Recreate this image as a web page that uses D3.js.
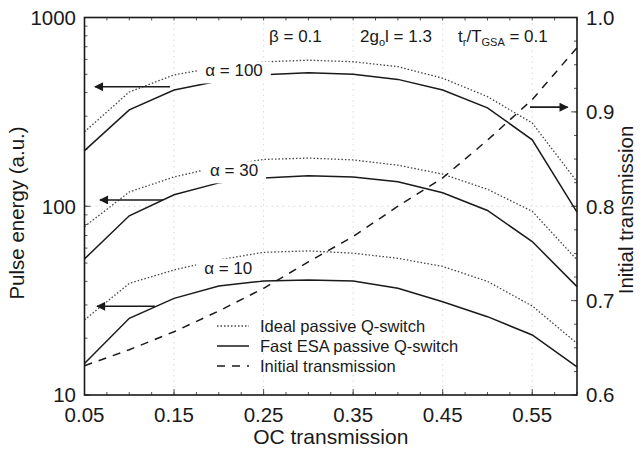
<!DOCTYPE html>
<html><head><meta charset="utf-8">
<script src="https://cdn.jsdelivr.net/npm/d3@7"></script>
<style>
body{margin:0;background:#fff;}
text{font-family:"Liberation Sans",Arial,Helvetica,sans-serif;fill:#1a1a1a;}
</style></head>
<body><svg id="c" width="643" height="450"></svg>
<script>
// ---- data ----
const oc = [0.05,0.10,0.15,0.20,0.25,0.30,0.35,0.40,0.45,0.50,0.55,0.60];
const ideal100 = [248,403,496,548,582,594,583,549,477,381,276,135];
const esa100   = [197,324,413,461,498,510,500,470,413,332,225,93];
const ideal30  = [78,119,143,162,177,180,176,165,148,123,94,52];
const esa30    = [52.6,89,115,133,141,145,143,135,118,95,65,37.5];
const ideal10  = [25,39,46,52,57,58,56.4,53,48,40,29.6,18.8];
const esa10    = [14.7,25.5,32.5,37.8,40.2,40.7,40.2,36.8,31.2,26,20.8,14.1];
const initT    = [0.631,0.648,0.667,0.689,0.713,0.741,0.768,0.800,0.830,0.870,0.913,0.968];
const xTicks = [0.05,0.15,0.25,0.35,0.45,0.55];
const yTicks = [10,100,1000];
const y2Ticks = [0.6,0.7,0.8,0.9,1.0];
const alphaLabels = [
  {a:"100", x:0.217, y:521},
  {a:"30",  x:0.217, y:154},
  {a:"10",  x:0.2105, y:47}
];
const leftArrows = [{x0:0.1455,x1:0.0617,y:430},{x0:0.1377,x1:0.0673,y:108},{x0:0.1287,x1:0.064,y:29.5}];
const rightArrow = {x0:0.5475,x1:0.5895,t:0.905};
const legendItems = [
  {label:"Ideal passive Q-switch", dash:"1.5,2", w:1.3},
  {label:"Fast ESA passive Q-switch", dash:null, w:1.5},
  {label:"Initial transmission", dash:"8,7", w:1.5}
];

const svg = d3.select("#c");
const L=84.5, R=577, T=17.5, B=395;
const x = d3.scaleLinear().domain([0.05,0.6]).range([L,R]);
const y = d3.scaleLog().domain([10,1000]).range([B,T]);
const y2 = d3.scaleLinear().domain([0.6,1.0]).range([B,T]);

// grid
const grid = svg.append("g").attr("stroke","#d9d9d9").attr("stroke-width",1).attr("stroke-dasharray","1.5,4");
xTicks.slice(1).forEach(v=>grid.append("line").attr("x1",x(v)).attr("x2",x(v)).attr("y1",T).attr("y2",B));
grid.append("line").attr("x1",L).attr("x2",R).attr("y1",y(100)).attr("y2",y(100));

// minor ticks
const tk = svg.append("g").attr("stroke","#555").attr("stroke-width",1);
d3.range(0.05,0.6001,0.025).forEach(v=>{
  tk.append("line").attr("x1",x(v)).attr("x2",x(v)).attr("y1",B).attr("y2",B-3);
  tk.append("line").attr("x1",x(v)).attr("x2",x(v)).attr("y1",T).attr("y2",T+3);
});
y.ticks().forEach(v=>{
  tk.append("line").attr("x1",L).attr("x2",L+3).attr("y1",y(v)).attr("y2",y(v));
});
d3.range(0.6,1.0001,0.025).forEach(v=>{
  tk.append("line").attr("x1",R).attr("x2",R-3).attr("y1",y2(v)).attr("y2",y2(v));
});
yTicks.forEach(v=>tk.append("line").attr("x1",L).attr("x2",L+6).attr("y1",y(v)).attr("y2",y(v)));
y2Ticks.forEach(v=>tk.append("line").attr("x1",R).attr("x2",R-6).attr("y1",y2(v)).attr("y2",y2(v)));
xTicks.forEach(v=>{
  tk.append("line").attr("x1",x(v)).attr("x2",x(v)).attr("y1",B).attr("y2",B-6);
});

// curves
const line = d3.line().x((d,i)=>x(oc[i])).y(d=>y(d));
const line2 = d3.line().x((d,i)=>x(oc[i])).y(d=>y2(d));
const curves = svg.append("g").attr("fill","none");
[ideal100,ideal30,ideal10].forEach(s=>curves.append("path").attr("d",line(s))
  .attr("stroke","#444").attr("stroke-width",1.3).attr("stroke-dasharray","1.5,2"));
[esa100,esa30,esa10].forEach(s=>curves.append("path").attr("d",line(s))
  .attr("stroke","#1a1a1a").attr("stroke-width",1.5));
curves.append("path").attr("d",line2(initT)).attr("stroke","#1a1a1a").attr("stroke-width",1.5).attr("stroke-dasharray","8,7");

// alpha labels with white background
alphaLabels.forEach(d=>{
  const g = svg.append("g");
  const t = g.append("text").attr("x",x(d.x)).attr("y",y(d.y)).attr("text-anchor","middle")
    .attr("dominant-baseline","central").attr("font-size",17).text("\u03B1 = "+d.a);
  const bb = t.node().getBBox();
  g.insert("rect","text").attr("x",bb.x-8).attr("y",bb.y).attr("width",bb.width+16).attr("height",bb.height+3).attr("fill","#fff");
});

// arrows
const defs = svg.append("defs");
defs.append("marker").attr("id","ah").attr("viewBox","0 0 10 10").attr("refX",9).attr("refY",5)
  .attr("markerWidth",12).attr("markerHeight",9).attr("markerUnits","userSpaceOnUse").attr("orient","auto")
  .append("path").attr("d","M0,0L10,5L0,10Z").attr("fill","#1a1a1a");
leftArrows.forEach(a=>svg.append("line").attr("x1",x(a.x0)).attr("x2",x(a.x1)).attr("y1",y(a.y)).attr("y2",y(a.y))
  .attr("stroke","#1a1a1a").attr("stroke-width",1.6).attr("marker-end","url(#ah)"));
svg.append("line").attr("x1",x(rightArrow.x0)).attr("x2",x(rightArrow.x1)).attr("y1",y2(rightArrow.t)).attr("y2",y2(rightArrow.t))
  .attr("stroke","#1a1a1a").attr("stroke-width",1.6).attr("marker-end","url(#ah)");

// frame
svg.append("rect").attr("x",L).attr("y",T).attr("width",R-L).attr("height",B-T)
  .attr("fill","none").attr("stroke","#1a1a1a").attr("stroke-width",1.6);

// tick labels
xTicks.forEach(v=>svg.append("text").attr("x",x(v)).attr("y",422).attr("text-anchor","middle")
  .attr("font-size",20.5).text(d3.format(".2f")(v)));
yTicks.forEach(v=>svg.append("text").attr("x",76).attr("y",y(v)).attr("dy","0.36em").attr("text-anchor","end")
  .attr("font-size",20.5).text(v));
y2Ticks.forEach(v=>svg.append("text").attr("x",586).attr("y",y2(v)).attr("dy","0.36em")
  .attr("font-size",20.5).text(d3.format(".1f")(v)));

// axis titles
svg.append("text").attr("x",x(0.325)).attr("y",444).attr("text-anchor","middle").attr("font-size",21).text("OC transmission");
svg.append("text").attr("transform","translate(24,213) rotate(-90)").attr("text-anchor","middle").attr("font-size",20.5).text("Pulse energy (a.u.)");
svg.append("text").attr("transform","translate(633,210) rotate(-90)").attr("text-anchor","middle").attr("font-size",20.5).text("Initial transmission");

// parameter annotations
const ann = svg.append("g").attr("font-size",17);
ann.append("text").attr("x",269).attr("y",42).text("\u03B2 = 0.1");
const a2 = ann.append("text").attr("x",360).attr("y",42);
a2.append("tspan").text("2g");
a2.append("tspan").attr("font-size",11).attr("dy",4).text("o");
a2.append("tspan").attr("dy",-4).text("l = 1.3");
const a3 = ann.append("text").attr("x",458).attr("y",42);
a3.append("tspan").text("t");
a3.append("tspan").attr("font-size",11).attr("dy",4).text("r");
a3.append("tspan").attr("dy",-4).text("/T");
a3.append("tspan").attr("font-size",11).attr("dy",4).text("GSA");
a3.append("tspan").attr("dy",-4).text(" = 0.1");

// legend
const lg = svg.append("g");
legendItems.forEach((d,i)=>{
  const yy = 326 + i*20;
  const ln = lg.append("line").attr("x1",217).attr("x2",249).attr("y1",yy).attr("y2",yy)
    .attr("stroke",i===0?"#444":"#1a1a1a").attr("stroke-width",d.w);
  if(d.dash) ln.attr("stroke-dasharray",d.dash);
  lg.append("text").attr("x",260).attr("y",yy).attr("dy","0.36em").attr("font-size",16.5).text(d.label);
});
</script></body></html>
